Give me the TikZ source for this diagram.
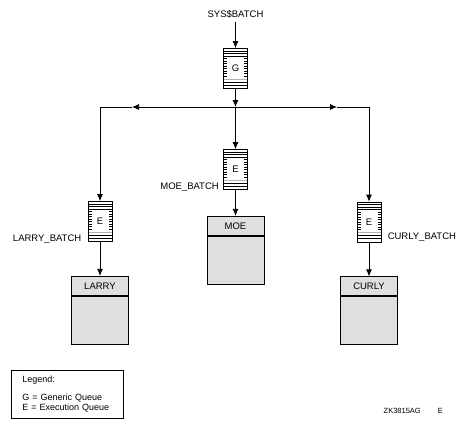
\documentclass[tikz,border=0pt]{standalone}
\usepackage{fontspec}
\setmainfont{Liberation Sans}
\usetikzlibrary{positioning,arrows.meta}
\tikzstyle{queue} = [draw, rectangle, inner sep=0pt, minimum width=24pt, minimum height=40pt,
  path picture={
    \foreach \s in {2.5,5,7.5,33.5,36.5}
      \draw [line width=0.6pt] ([yshift=-\s*1pt]path picture bounding box.north west) -- ([yshift=-\s*1pt]path picture bounding box.north east);
    \draw [line width=0.6pt, gray!60] ([yshift=-30.5pt]path picture bounding box.north west) -- ([yshift=-30.5pt]path picture bounding box.north east);
    \foreach \s in {10,12.5,...,27.5} {
      \draw [line width=0.5pt] ([yshift=-\s*1pt]path picture bounding box.north west) -- ++(3.5pt,0);
      \draw [line width=0.5pt] ([yshift=-\s*1pt]path picture bounding box.north east) -- ++(-3.5pt,0);
    }
  }]
\tikzstyle{header} = [draw, rectangle, fill=gray!25, minimum width=57pt, minimum height=19pt, inner sep=0pt]
\tikzstyle{body} = [draw, rectangle, fill=gray!25, minimum width=57pt, minimum height=48pt]
\tikzstyle{qname} = [inner sep=0pt]
\begin{document}
\begin{tikzpicture}[x=1pt, y=-1pt, >={Latex[length=7pt,width=6pt]}, line width=0.75pt, font=\fontsize{9.5}{11}\selectfont]

\useasboundingbox (0,0) rectangle (471,428);

\node (sys) at (235.5,14) {SYS\$BATCH};
\node [queue] (gq) at (235.5,68.5) {G};
\coordinate (split) at (235.5,107);
\coordinate (lcorner) at (100,107);
\coordinate (rcorner) at (369,107);
\coordinate (ltip) at (132,107);
\coordinate (rtip) at (337,107);

\node [queue] (moeq) at (235.5,169.5) {E};
\node [queue] (larryq) at (100,221.5) {E};
\node [queue] (curlyq) at (369,222) {E};

\node [qname, anchor=base east] (moelabel) at ([xshift=-4pt,yshift=0.5pt]moeq.south west) {MOE\_BATCH};
\node [qname, anchor=base east] (larrylabel) at ([xshift=-6pt,yshift=0.5pt]larryq.south west) {LARRY\_BATCH};
\node [qname, anchor=base west] (curlylabel) at ([xshift=6pt,yshift=3pt]curlyq.south east) {CURLY\_BATCH};

\node [header, below=26pt of moeq] (moe) {MOE};
\node [body, below=0pt of moe] (moebody) {};
\node [header, below=34pt of larryq] (larry) {LARRY};
\node [body, below=0pt of larry] (larrybody) {};
\node [header, below=34pt of curlyq] (curly) {CURLY};
\node [body, below=0pt of curly] (curlybody) {};

\draw [->] (sys) -- (gq);
\draw [->] (gq) -- (split);
\draw [->] (split) -- (ltip);
\draw [->] (ltip) -- (lcorner) -- (larryq);
\draw [->] (split) -- (rtip);
\draw [->] (rtip) -- (rcorner) -- (curlyq);
\draw [->] (split) -- (moeq);
\draw [->] (moeq) -- (moe);
\draw [->] (larryq) -- (larry);
\draw [->] (curlyq) -- (curly);

\node [draw, anchor=north west, minimum width=112pt, minimum height=48pt, text width=90pt, align=left, font=\fontsize{9}{10}\selectfont] (legend) at (11,370) {Legend:\\[8pt]G = Generic Queue\\E = Execution Queue};
\node [anchor=west, font=\fontsize{7.5}{9}\selectfont] (zk) at (380,411) {ZK3815AG\hspace{17pt}E};

\end{tikzpicture}
\end{document}
